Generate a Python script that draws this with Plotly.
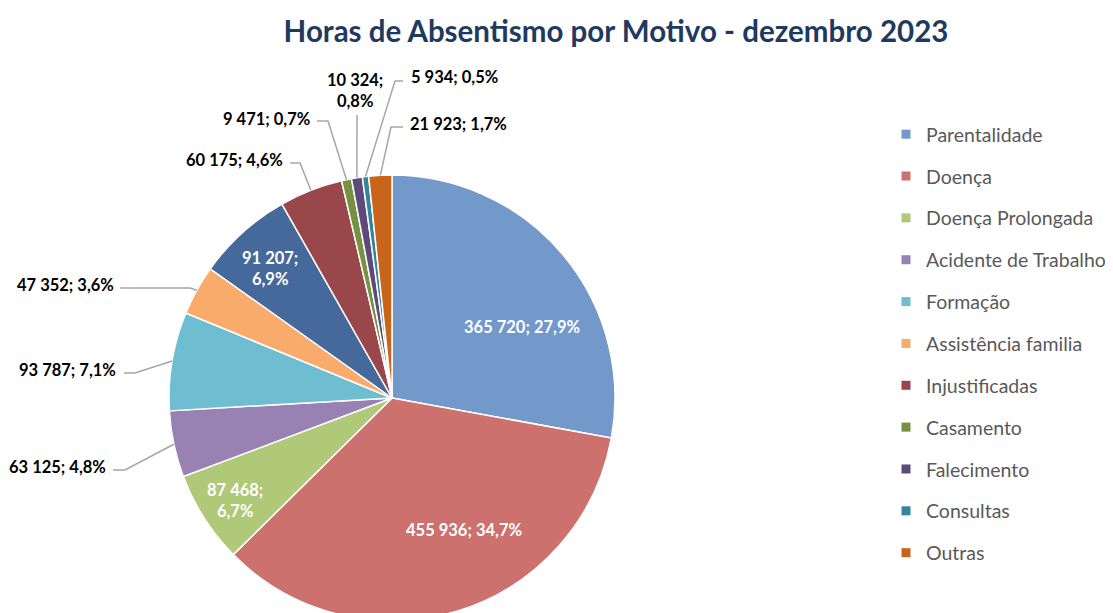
import math
import plotly.graph_objects as go

# -----------------------------------
# DATA
# -----------------------------------
motivos = [
    "Parentalidade", "Doença", "Doença Prolongada", "Acidente de Trabalho",
    "Formação", "Assistência familia", "(sem designação)", "Injustificadas",
    "Casamento", "Falecimento", "Consultas", "Outras",
]
horas = [365720, 455936, 87468, 63125, 93787, 47352, 91207, 60175, 9471, 10324, 5934, 21923]

# legend in the original lists only these (the 7th slice has no entry)
legenda = [
    "Parentalidade", "Doença", "Doença Prolongada", "Acidente de Trabalho",
    "Formação", "Assistência familia", "Injustificadas", "Casamento",
    "Falecimento", "Consultas", "Outras",
]

cores = [
    "#7398CA", "#CD716F", "#AFC979", "#9882B4", "#6FBDD1", "#F8AB6B",
    "#46699B", "#99474A", "#76913F", "#5E4A7A", "#31859C", "#C9651A",
]

W, H = 1113, 613
OFF = 8  # page body margin: paper starts 8px right/down of the window corner

# pie centre and radius in window pixels
CX, CY, R = 392, 398, 223

# -----------------------------------
# LABEL STYLE (window-pixel placement of the data labels)
# inside: index -> (centre x, centre y)
# outside: index -> (text x, text y, xanchor, yanchor, line start x, line start y, elbow x)
# -----------------------------------
dentro = {
    0: (522, 327),
    1: (464, 530),
    2: (235, 500),
    6: (270, 268),
}
fora = {
    5: (116, 285, "right", "middle", 120, 288, 190),
    4: (118, 370, "right", "middle", 124, 373, 135),
    3: (108, 467, "right", "middle", 113, 470, 125),
    7: (285, 160, "right", "middle", 290, 163, 300),
    8: (312, 119, "right", "middle", 317, 121, 328),
    9: (355, 113, "center", "bottom", 357, 115, 357),
    10: (409, 77, "left", "middle", 403, 81, 395),
    11: (408, 124, "left", "middle", 403, 127, 391),
}
dois_linhas = {2, 6, 9}


def px(x):
    return (x - OFF) / W


def py(y):
    return 1 - (y - OFF) / H


def fmt(v, total):
    n = f"{v:,}".replace(",", " ")
    p = f"{100 * v / total:.1f}".replace(".", ",") + "%"
    return n, p


total = sum(horas)

fig = go.Figure()

fig.add_trace(go.Pie(
    labels=motivos,
    values=horas,
    sort=False,
    direction="clockwise",
    rotation=0,
    marker=dict(colors=cores, line=dict(color="white", width=1.5)),
    textinfo="none",
    showlegend=False,
    domain=dict(x=[px(CX - R), px(CX + R)], y=[py(CY + R), py(CY - R)]),
    hoverinfo="label+value+percent",
))

# data labels (inside: white; outside: black with leader lines)
shapes = []
annotations = []
acum = 0
for i, v in enumerate(horas):
    meio = (acum + v / 2) / total * 2 * math.pi
    acum += v
    n, p = fmt(v, total)
    texto = f"{n};<br>{p}" if i in dois_linhas else f"{n}; {p}"

    if i in dentro:
        tx, ty = dentro[i]
        annotations.append(dict(
            x=px(tx), y=py(ty), xref="paper", yref="paper",
            xanchor="center", yanchor="middle", text=texto, showarrow=False,
            align="center",
            font=dict(family="Lato", size=16.5, color="white", weight="bold"),
        ))
        continue

    tx, ty, xa, ya, lx, ly, ex = fora[i]
    bx = CX + R * math.sin(meio)
    by = CY - R * math.cos(meio)
    annotations.append(dict(
        x=px(tx), y=py(ty), xref="paper", yref="paper",
        xanchor=xa, yanchor=ya, text=texto, showarrow=False, align="center",
        font=dict(family="Lato", size=16.5, color="black", weight="bold"),
    ))
    shapes.append(dict(
        type="path", xref="paper", yref="paper",
        path=f"M {px(lx)},{py(ly)} L {px(ex)},{py(ly)} L {px(bx)},{py(by)}",
        line=dict(color="#A6A6A6", width=1.5),
    ))

# legend entries
for nome in legenda:
    c = cores[motivos.index(nome)]
    fig.add_trace(go.Scatter(
        x=[None], y=[None], mode="markers", name=nome, legendgroup=nome,
        marker=dict(symbol="square", size=9, color=c),
    ))

fig.update_layout(
    width=W,
    height=H,
    margin=dict(l=0, r=0, t=0, b=0),
    paper_bgcolor="white",
    plot_bgcolor="white",
    title=dict(
        text="<b>Horas de Absentismo por Motivo - dezembro 2023</b>",
        x=px(616), xanchor="center", y=py(32), yanchor="middle",
        font=dict(family="Lato", size=29.5, color="#1F3A5F"),
    ),
    xaxis=dict(visible=False),
    yaxis=dict(visible=False),
    legend=dict(
        x=px(886), y=py(115), xanchor="left", yanchor="top",
        font=dict(family="Lato", size=19.5, color="#595959"),
        tracegroupgap=13.5,
        bgcolor="rgba(0,0,0,0)",
    ),
    shapes=shapes,
    annotations=annotations,
)

fig.write_html("out.html")
